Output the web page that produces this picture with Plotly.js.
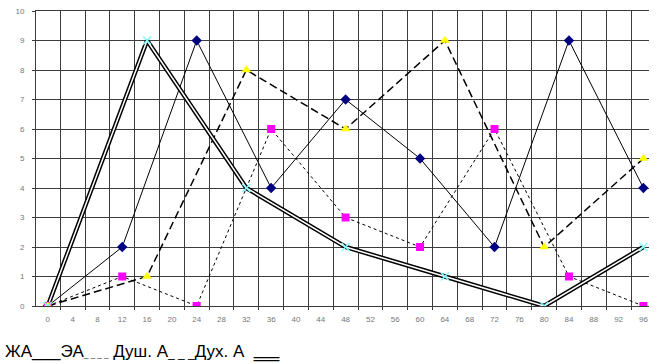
<!DOCTYPE html>
<html>
<head>
<meta charset="utf-8">
<script src="https://cdn.plot.ly/plotly-3.0.1.min.js"></script>
<style>html,body{margin:0;padding:0;background:#fff;}#chart{width:658px;height:364px;}</style>
</head>
<body>
<div id="chart"></div>
<script>
// Data
const xTicks = [0,4,8,12,16,20,24,28,32,36,40,44,48,52,56,60,64,68,72,76,80,84,88,92,96];
const xGrid12 = [0,12,24,36,48,60,72,84,96];
const xGrid16 = [0,16,32,48,64,80,96];
const seriesNames = ["ЖА","ЭА","Душ. А","Дух. А"];
const zhA   = [0,2,9,4,7,5,2,9,4];     // ЖА, x = xGrid12
const eA    = [0,1,0,6,3,2,6,1,0];     // ЭА, x = xGrid12
const dushA = [0,1,8,6,9,2,5];         // Душ. А, x = xGrid16
const duhA  = [0,9,4,2,1,0,2];         // Дух. А, x = xGrid16

const traces = [
  // lines
  {x:xGrid12, y:zhA, mode:'lines', name:seriesNames[0], line:{color:'#000',width:1}, hoverinfo:'skip'},
  {x:xGrid12, y:eA, mode:'lines', name:seriesNames[1], line:{color:'#000',width:1,dash:'3px,3px'}, hoverinfo:'skip'},
  {x:xGrid16, y:dushA, mode:'lines', name:seriesNames[2], line:{color:'#000',width:1.5,dash:'8px,4px'}, hoverinfo:'skip'},
  {x:xGrid16, y:duhA, mode:'lines', name:seriesNames[3], line:{color:'#000',width:4.5}, hoverinfo:'skip'},
  {x:xGrid16, y:duhA, mode:'lines', name:seriesNames[3], line:{color:'#fff',width:1.5}, hoverinfo:'skip'},
  // markers
  {x:xGrid12, y:zhA, mode:'markers', name:seriesNames[0], marker:{symbol:'diamond',color:'#000080',size:8}},
  {x:xGrid12, y:eA, mode:'markers', name:seriesNames[1], marker:{symbol:'square',color:'#ff00ff',size:8}},
  {x:xGrid16, y:dushA, mode:'markers', name:seriesNames[2], marker:{symbol:'triangle-up',color:'#ffff00',size:9}},
  {x:xGrid16, y:duhA, mode:'markers', name:seriesNames[3], marker:{symbol:'x-thin-open',color:'#80ffff',size:8,line:{color:'#80ffff',width:1.5}}}
];

const layout = {
  width:658, height:364,
  margin:{l:36, r:9, t:11, b:58},
  paper_bgcolor:'#fff', plot_bgcolor:'#fff',
  showlegend:false,
  font:{family:'Liberation Sans, Arial, sans-serif', color:'#000'},
  xaxis:{
    range:[-1.9,96.9], tick0:2, dtick:4, showgrid:true, gridcolor:'#3c3c3c', gridwidth:1,
    ticks:'outside', ticklen:3, tickcolor:'#3c3c3c', showticklabels:false,
    showline:true, linecolor:'#3c3c3c', mirror:true, zeroline:false
  },
  xaxis2:{
    overlaying:'x', anchor:'y', side:'bottom', range:[-1.9,96.9],
    tickmode:'array', tickvals:xTicks, ticktext:xTicks.map(String),
    showgrid:false, ticks:'', showline:false, zeroline:false,
    tickfont:{size:8, color:'#777'}, ticklabelstandoff:7
  },
  yaxis:{
    range:[0,10], dtick:1, showgrid:true, gridcolor:'#3c3c3c', gridwidth:1,
    ticks:'outside', ticklen:3, tickcolor:'#3c3c3c',
    showline:true, linecolor:'#3c3c3c', zeroline:false,
    tickfont:{size:8, color:'#777'}, ticklabelstandoff:6
  },
  annotations:[{
    xref:'paper', yref:'paper', x:-0.054, y:-0.153, xanchor:'left', yanchor:'middle',
    showarrow:false, font:{size:17, color:'#000', family:'Liberation Sans, Arial, sans-serif'},
    text:"ЖА___ЭА<span style='font-size:8px'>_ _ _ _</span> Душ. А<span style='font-size:12px'>_ _ _</span>Дух. А  <span style='font-family:DejaVu Sans'>‗‗‗</span>"
  }]
};
// dummy trace so xaxis2 labels are drawn
traces.push({x:[0], y:[0], xaxis:'x2', yaxis:'y', mode:'markers', marker:{opacity:0}, hoverinfo:'skip'});
Plotly.newPlot('chart', traces, layout, {staticPlot:true});
</script>
</body>
</html>
